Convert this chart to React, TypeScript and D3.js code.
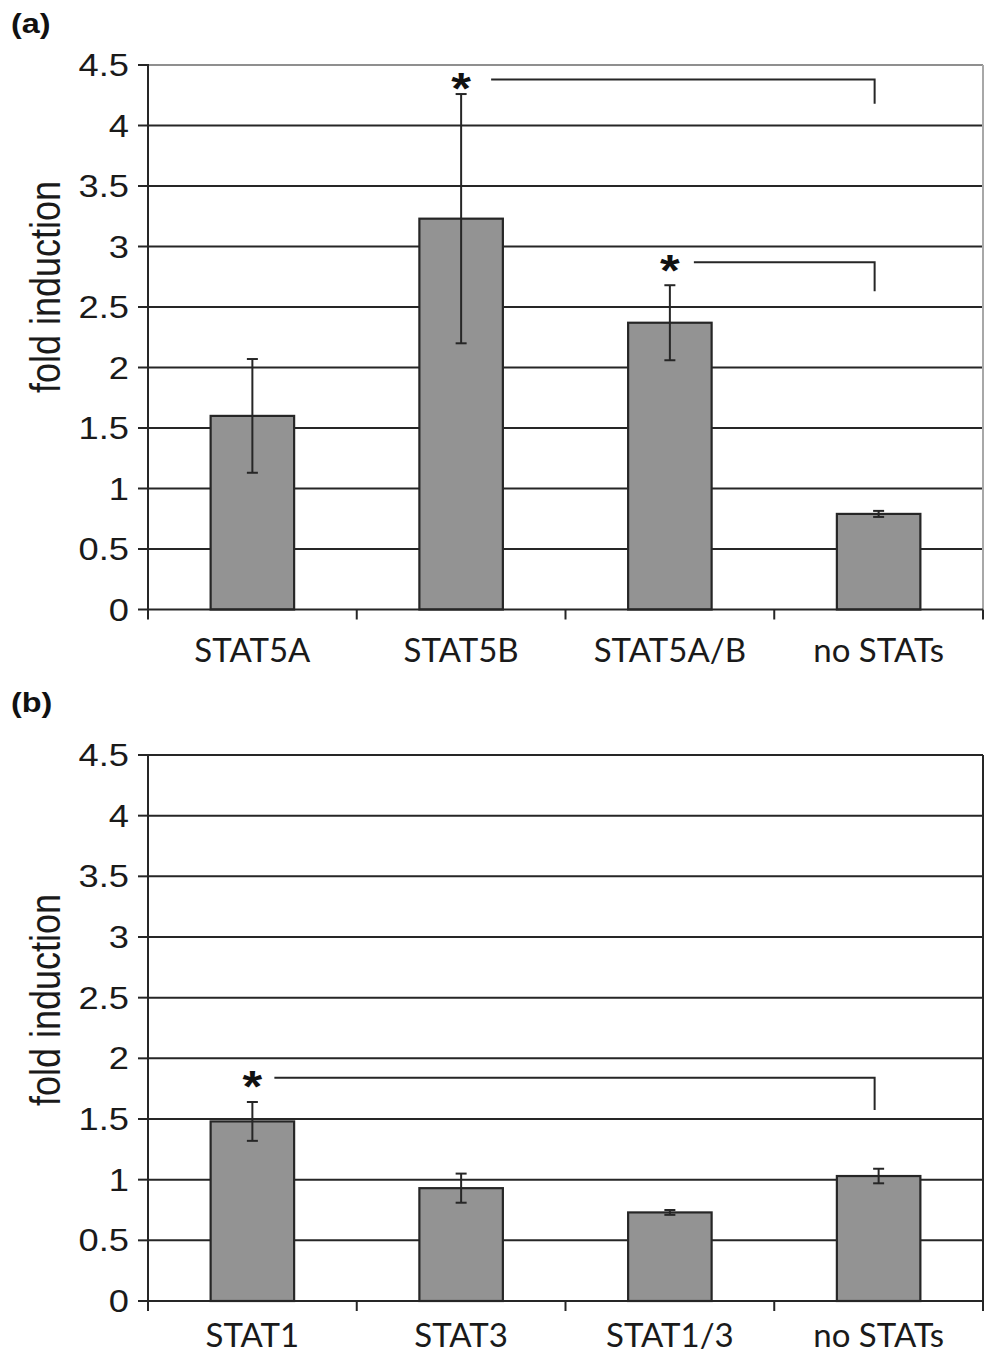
import React from "react";
import * as d3 from "d3";

const categoriesA = ["STAT5A", "STAT5B", "STAT5A/B", "no STATs"];
const valuesA = [1.6, 3.23, 2.37, 0.79];
const errorsA = [0.47, 1.03, 0.31, 0.025];

const categoriesB = ["STAT1", "STAT3", "STAT1/3", "no STATs"];
const valuesB = [1.48, 0.93, 0.73, 1.03];
const errorsB = [0.16, 0.12, 0.02, 0.06];

const yTicks = [0, 0.5, 1, 1.5, 2, 2.5, 3, 3.5, 4, 4.5];
const yTickLabels = ["0", "0.5", "1", "1.5", "2", "2.5", "3", "3.5", "4", "4.5"];

// significance brackets: from bar index -> to bar index, line level, drop level
const sigA = [
  { from: 1, to: 3, level: 4.38, drop: 4.18 },
  { from: 2, to: 3, level: 2.87, drop: 2.63 },
];
const sigB = [{ from: 0, to: 3, level: 1.84, drop: 1.575 }];
const sigGapA = [30, 24];
const sigGapB = [22];

const panelLabels = ["(a)", "(b)"];
const yTitle = "fold induction";

const W = 1004;
const H = 1359;
const X0 = 148;
const X1 = 983;
const DARK = "#262626";
const BAR_FILL = "#939393";
const SX = 1.17;

type PanelProps = {
  cats: string[];
  vals: number[];
  errs: number[];
  sig: { from: number; to: number; level: number; drop: number }[];
  sigGap: number[];
  top: number;
  bottom: number;
  label: string;
  labelY: number;
  titleY: number;
  xLabelOffset: number;
  lightFrame: boolean;
};

function Panel({ cats, vals, errs, sig, sigGap, top, bottom, label, labelY, titleY, xLabelOffset, lightFrame }: PanelProps) {
  const x = d3.scaleBand<string>().domain(cats).range([X0, X1]).paddingInner(0.6).paddingOuter(0.3);
  const y = d3.scaleLinear().domain([0, 4.5]).range([bottom, top]);
  const step = (X1 - X0) / cats.length;
  const boundaries = d3.range(cats.length + 1).map((i) => X0 + i * step);
  const frameColor = lightFrame ? "#8f8f8f" : DARK;
  const center = (i: number) => (x(cats[i]) as number) + x.bandwidth() / 2;

  return (
    <g>
      <text
        transform={`translate(11,${labelY}) scale(1.2,1)`}
        fontFamily="Liberation Sans, Arial, sans-serif"
        fontWeight="bold"
        fontSize={27}
        fill="#111"
      >
        {label}
      </text>

      {/* gridlines */}
      {yTicks.filter((t) => t > 0 && t < 4.5).map((t) => (
        <line key={t} x1={X0} x2={X1} y1={y(t)} y2={y(t)} stroke={DARK} strokeWidth={2} />
      ))}
      {/* top & right frame */}
      <line x1={X0} x2={X1} y1={y(4.5)} y2={y(4.5)} stroke={frameColor} strokeWidth={2} />
      <line x1={X1} x2={X1} y1={y(4.5)} y2={y(0)} stroke={lightFrame ? "#a8a8a8" : DARK} strokeWidth={2} />

      {/* y axis ticks and labels */}
      {yTicks.map((t, i) => (
        <g key={"yt" + t}>
          <line x1={138} x2={X0} y1={y(t)} y2={y(t)} stroke={DARK} strokeWidth={2} />
          <text
            transform={`translate(129,${y(t) + 11}) scale(${SX},1)`}
            textAnchor="end"
            fontFamily="Liberation Sans, Arial, sans-serif"
            fontSize={31}
            fill="#1a1a1a"
          >
            {yTickLabels[i]}
          </text>
        </g>
      ))}
      <line x1={X0} x2={X0} y1={y(4.5) - 1} y2={y(0) + 1} stroke={DARK} strokeWidth={2} />

      {/* y title */}
      <text
        transform={`translate(60,${titleY}) scale(${SX},1) rotate(-90)`}
        textAnchor="middle"
        fontFamily="Liberation Sans, Arial, sans-serif"
        fontSize={36}
        fill="#1a1a1a"
      >
        {yTitle}
      </text>

      {/* bars */}
      {cats.map((c, i) => (
        <rect
          key={c}
          x={x(c)}
          y={y(vals[i])}
          width={x.bandwidth()}
          height={y(0) - y(vals[i])}
          fill={BAR_FILL}
          stroke={DARK}
          strokeWidth={2.2}
        />
      ))}

      {/* error bars */}
      {cats.map((c, i) => {
        const cx = center(i);
        const hi = y(vals[i] + errs[i]);
        const lo = y(vals[i] - errs[i]);
        return (
          <g key={"e" + c} stroke={DARK} strokeWidth={2}>
            <line x1={cx} x2={cx} y1={hi} y2={lo} />
            <line x1={cx - 5.5} x2={cx + 5.5} y1={hi} y2={hi} />
            <line x1={cx - 5.5} x2={cx + 5.5} y1={lo} y2={lo} />
          </g>
        );
      })}

      {/* x axis */}
      <line x1={X0} x2={X1} y1={y(0)} y2={y(0)} stroke={DARK} strokeWidth={2} />
      {boundaries.map((b, i) => (
        <line key={"xt" + i} x1={b} x2={b} y1={y(0)} y2={y(0) + 10} stroke={DARK} strokeWidth={2} />
      ))}
      {cats.map((c, i) => (
        <text
          key={"xl" + c}
          x={center(i)}
          y={y(0) + xLabelOffset}
          textAnchor="middle"
          fontFamily="Lato, Open Sans, sans-serif"
          fontSize={33}
          fill="#1a1a1a"
        >
          {c}
        </text>
      ))}

      {/* significance */}
      {sig.map((s, k) => {
        const cx = center(s.from);
        const ex = center(s.to) - 4;
        const ly = y(s.level);
        return (
          <g key={"s" + k}>
            <text
              transform={`translate(${cx},${ly + 24}) scale(1.15,1)`}
              textAnchor="middle"
              fontFamily="Liberation Sans, Arial, sans-serif"
              fontWeight="bold"
              fontSize={44}
              fill="#111"
            >
              *
            </text>
            <polyline
              points={`${cx + sigGap[k]},${ly} ${ex},${ly} ${ex},${y(s.drop)}`}
              fill="none"
              stroke={DARK}
              strokeWidth={2}
            />
          </g>
        );
      })}
    </g>
  );
}

export default function App() {
  return (
    <svg
      width={W}
      height={H}
      viewBox={`0 0 ${W} ${H}`}
      style={{ position: "absolute", left: 0, top: 0, background: "#fff" }}
    >
      <rect width={W} height={H} fill="#fff" />
      <Panel
        cats={categoriesA}
        vals={valuesA}
        errs={errorsA}
        sig={sigA}
        sigGap={sigGapA}
        top={65}
        bottom={609.5}
        label={panelLabels[0]}
        labelY={33}
        titleY={287}
        xLabelOffset={52}
        lightFrame={true}
      />
      <Panel
        cats={categoriesB}
        vals={valuesB}
        errs={errorsB}
        sig={sigB}
        sigGap={sigGapB}
        top={755}
        bottom={1301}
        label={panelLabels[1]}
        labelY={712}
        titleY={1000}
        xLabelOffset={46}
        lightFrame={false}
      />
    </svg>
  );
}
